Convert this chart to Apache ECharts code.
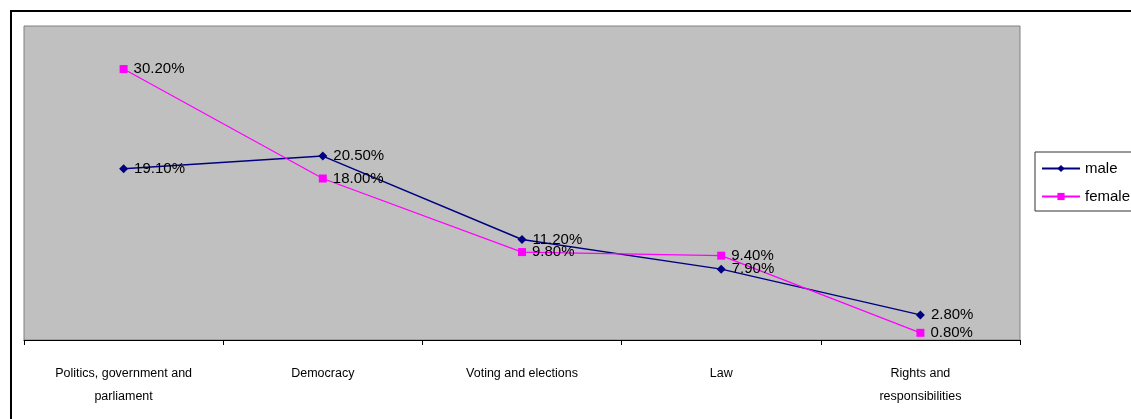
<!DOCTYPE html>
<html>
<head>
<meta charset="utf-8">
<script src="https://cdn.jsdelivr.net/npm/echarts@6/dist/echarts.min.js"></script>
<style>
  html, body { margin: 0; padding: 0; background: #fff; }
  #chart { width: 1131px; height: 419px; }
</style>
</head>
<body>
<div id="chart"></div>
<script>
// topics, share of pupils (%)
var categories = ['Politics, government and\nparliament', 'Democracy', 'Voting and elections', 'Law', 'Rights and\nresponsibilities'];
var maleValues = [19.1, 20.5, 11.2, 7.9, 2.8];
var femaleValues = [30.2, 18.0, 9.8, 9.4, 0.8];

var myChart = echarts.init(document.getElementById('chart'));

function pct(p) {
    return p.value.toFixed(2) + '%';
}

myChart.setOption({
    animation: false,
    textStyle: { fontFamily: 'Arial, "Liberation Sans", sans-serif' },
    graphic: [{
        // outer frame of the figure
        type: 'rect',
        shape: { x: 11, y: 11, width: 1200, height: 500 },
        style: { fill: null, stroke: '#000', lineWidth: 2 },
        z: -1
    }],
    grid: {
        left: 24, right: 111, top: 26, bottom: 79,
        show: true,
        backgroundColor: '#C0C0C0',
        borderColor: '#808080',
        borderWidth: 1
    },
    legend: {
        orient: 'vertical',
        left: 1035, top: 152,
        padding: [9, 8, 7, 6],
        itemGap: 13,
        itemWidth: 38, itemHeight: 9,
        borderColor: '#333', borderWidth: 1,
        backgroundColor: '#fff',
        textStyle: { fontSize: 15, color: '#000' },
        data: ['male', 'female']
    },
    xAxis: {
        type: 'category',
        data: categories,
        boundaryGap: true,
        axisLine: { lineStyle: { color: '#000', width: 1 } },
        axisTick: { show: true, length: 5, lineStyle: { color: '#000' } },
        axisLabel: { fontSize: 12.5, color: '#000', margin: 22, lineHeight: 23, interval: 0 }
    },
    yAxis: {
        type: 'value',
        min: 0, max: 35,
        show: false,
        splitLine: { show: false }
    },
    series: [{
        name: 'male',
        type: 'line',
        data: maleValues,
        symbol: 'diamond',
        symbolSize: 9,
        color: '#000080',
        lineStyle: { color: '#000080', width: 1.5 },
        itemStyle: { color: '#000080' },
        label: { show: true, position: 'right', distance: 6, fontSize: 15, color: '#000', formatter: pct }
    }, {
        name: 'female',
        type: 'line',
        data: femaleValues,
        symbol: 'rect',
        symbolSize: 8,
        color: '#FF00FF',
        lineStyle: { color: '#FF00FF', width: 1.2 },
        itemStyle: { color: '#FF00FF' },
        label: { show: true, position: 'right', distance: 6, fontSize: 15, color: '#000', formatter: pct }
    }]
});
</script>
</body>
</html>
